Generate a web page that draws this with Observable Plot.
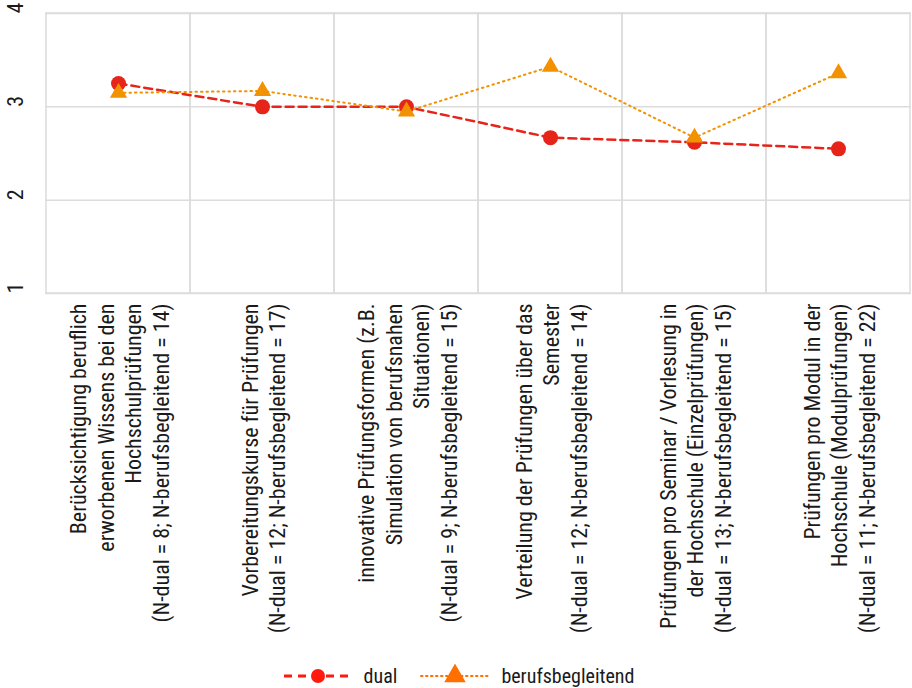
<!DOCTYPE html>
<html><head><meta charset="utf-8">
<script src="https://cdn.jsdelivr.net/npm/d3@7"></script>
<script src="https://cdn.jsdelivr.net/npm/@observablehq/plot@0.6"></script>
<style>
body{margin:0;background:#fff;font-family:"Liberation Sans Narrow","Roboto Condensed","Arial Narrow",sans-serif;}
#legend{display:flex;justify-content:center;align-items:center;height:34px;font-size:20px;color:#1a1a1a;margin-left:4px}
.item{display:flex;align-items:center;gap:10px}
</style></head><body>
<div id="chart"></div>
<div id="legend"></div>
<script>
const categories = [
  "Berücksichtigung beruflich\nerworbenen Wissens bei den\nHochschulprüfungen\n(N-dual = 8; N-berufsbegleitend = 14)",
  "Vorbereitungskurse für Prüfungen\n(N-dual = 12; N-berufsbegleitend = 17)",
  "innovative Prüfungsformen (z.B.\nSimulation von berufsnahen\nSituationen)\n(N-dual = 9; N-berufsbegleitend = 15)",
  "Verteilung der Prüfungen über das\nSemester\n(N-dual = 12; N-berufsbegleitend = 14)",
  "Prüfungen pro Seminar / Vorlesung in\nder Hochschule (Einzelprüfungen)\n(N-dual = 13; N-berufsbegleitend = 15)",
  "Prüfungen pro Modul in der\nHochschule (Modulprüfungen)\n(N-dual = 11; N-berufsbegleitend = 22)"
];
const dual = [3.25, 3.00, 3.00, 2.67, 2.62, 2.55];
const berufsbegleitend = [3.15, 3.17, 2.95, 3.43, 2.67, 3.36];
const yTicks = [1, 2, 3, 4];
const colorDual = "#e62419";
const colorBerufs = "#f39200";

const dualData = categories.map((c, i) => ({cat: c, value: dual[i]}));
const berufsData = categories.map((c, i) => ({cat: c, value: berufsbegleitend[i]}));

const chart = Plot.plot({
  width: 912,
  height: 659,
  marginLeft: 45,
  marginRight: 1,
  marginTop: 13,
  marginBottom: 366,
  style: {fontFamily: '"Liberation Sans Narrow","Roboto Condensed","Arial Narrow",sans-serif', color: "#1a1a1a"},
  x: {type: "band", domain: categories, padding: 0, axis: null},
  y: {domain: [1, 4], ticks: yTicks, axis: null, label: null},
  marks: [
    Plot.gridY(yTicks, {stroke: "#dcdcdc", strokeOpacity: 1, strokeWidth: 1.5}),
    Plot.cell(categories, {x: d => d, fill: "none", stroke: "#dcdcdc", strokeWidth: 1.5}),
    Plot.text(yTicks, {y: d => d, text: d => String(d), frameAnchor: "left", dx: -30, rotate: -90, fontSize: 22, fill: "#1a1a1a"}),
    Plot.text(categories, {x: d => d, y: () => 1, text: d => d, rotate: -90, textAnchor: "end", lineAnchor: "middle", lineHeight: 1.25, dy: 10, fontSize: 22, fill: "#1a1a1a"}),
    Plot.line(dualData, {x: "cat", y: "value", stroke: colorDual, strokeWidth: 2.5, strokeDasharray: "8,5"}),
    Plot.dot(dualData, {x: "cat", y: "value", r: 7.5, fill: colorDual, stroke: "none"}),
    Plot.line(berufsData, {x: "cat", y: "value", stroke: colorBerufs, strokeWidth: 2, strokeDasharray: "1.5,4", strokeLinecap: "round"}),
    Plot.dot(berufsData, {x: "cat", y: "value", symbol: "triangle", r: 6.4, fill: colorBerufs, stroke: "none"})
  ]
});
document.getElementById("chart").appendChild(chart);

// legend
const legendItems = [
  {label: "dual", color: "#ff1a0d", dash: "8,6", width: 3, symbol: "circle"},
  {label: "berufsbegleitend", color: "#ff7000", dash: "1.5,3.5", width: 2, symbol: "triangle"}
];
const legend = d3.select("#legend");
legendItems.forEach((it, k) => {
  const item = legend.append("div").attr("class", "item").style("margin-left", k ? "22px" : "0px");
  const s = item.append("svg").attr("width", 72).attr("height", 24);
  s.append("line").attr("x1", 2).attr("x2", 70).attr("y1", 12).attr("y2", 12)
    .attr("stroke", it.color).attr("stroke-width", it.width).attr("stroke-dasharray", it.dash).attr("stroke-linecap", it.symbol === "triangle" ? "round" : "butt");
  if (it.symbol === "circle") s.append("circle").attr("cx", 36).attr("cy", 12).attr("r", 7).attr("fill", it.color);
  else s.append("path").attr("d", d3.symbol(d3.symbolTriangle, 200)()).attr("transform", "translate(36,12)").attr("fill", it.color);
  item.append("span").text(it.label);
});
</script>
</body></html>
